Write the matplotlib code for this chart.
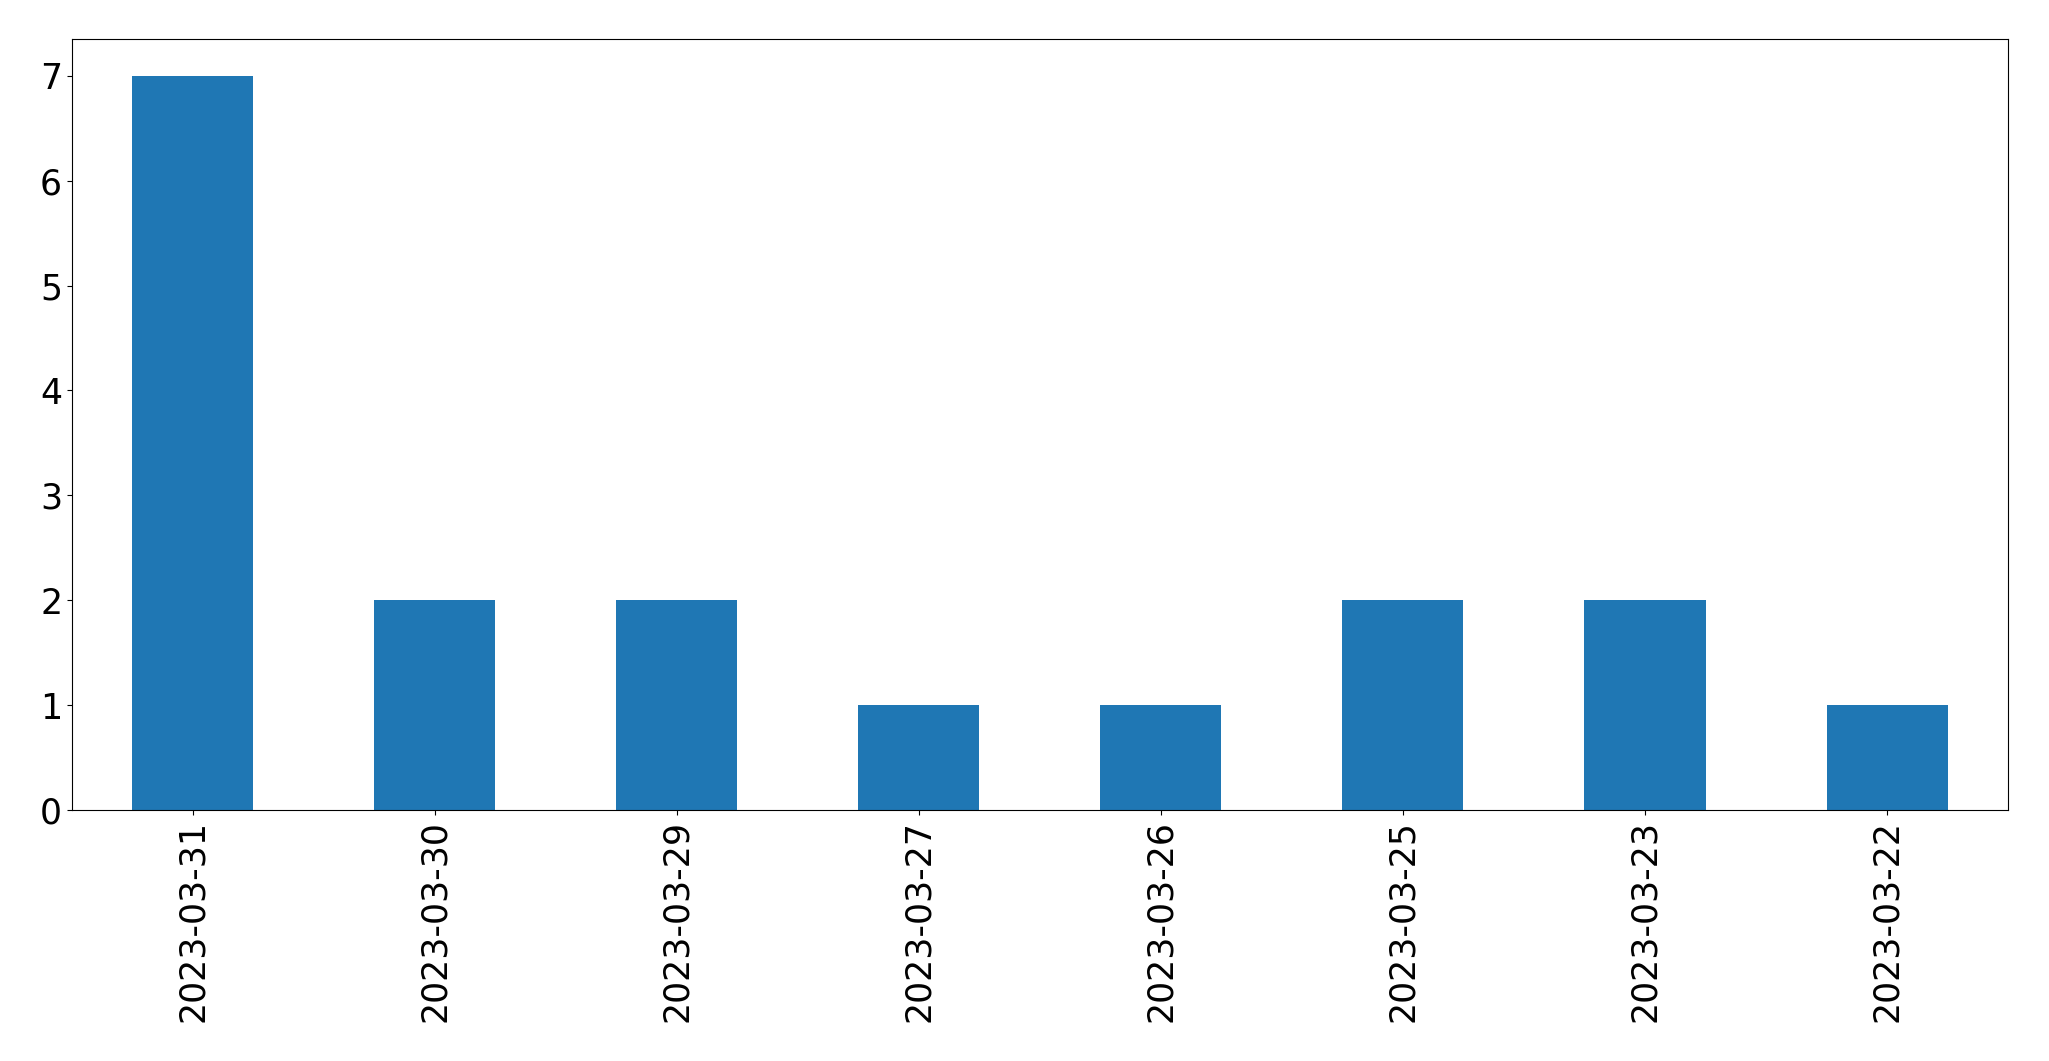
import matplotlib
matplotlib.use("Agg")
import matplotlib.pyplot as plt
import pandas as pd

dates = ["2023-03-31", "2023-03-30", "2023-03-29", "2023-03-27",
         "2023-03-26", "2023-03-25", "2023-03-23", "2023-03-22"]
counts = [7, 2, 2, 1, 1, 2, 2, 1]

series = pd.Series(counts, index=dates)

fig, ax = plt.subplots(figsize=(20.49, 10.61), dpi=100)
series.plot(kind="bar", ax=ax, color="#1f77b4", width=0.5)
ax.tick_params(axis="both", labelsize=25)
ax.set_xlim(-0.5, len(dates) - 0.5)
fig.subplots_adjust(left=0.0351, right=0.980, bottom=0.2366, top=0.9632)
fig.savefig("out.png", dpi=100)
plt.close(fig)
